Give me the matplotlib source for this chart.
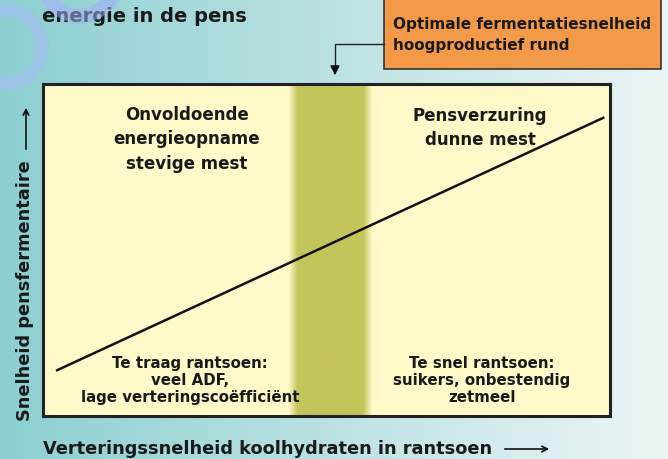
import numpy as np
import matplotlib
matplotlib.use("Agg")
import matplotlib.pyplot as plt
from matplotlib.patches import Rectangle, Wedge

# ---- data ----
title = "energie in de pens"
callout = "Optimale fermentatiesnelheid\nhoogproductief rund"
xlabel = "Verteringssnelheid koolhydraten in rantsoen"
ylabel = "Snelheid pensfermentaire"
line_x = [2.5, 98.8]
line_y = [13.8, 89.8]
band_x = [44.5, 56.8]
texts_top_left = "Onvoldoende\nenergieopname\nstevige mest"
texts_top_right = "Pensverzuring\ndunne mest"
texts_bot_left = "Te traag rantsoen:\nveel ADF,\nlage verteringscoëfficiënt"
texts_bot_right = "Te snel rantsoen:\nsuikers, onbestendig\nzetmeel"

W, H = 668, 459
fig = plt.figure(figsize=(W / 100, H / 100), dpi=100)
plt.rcParams['font.family'] = ['DejaVu Sans']

# background axes in pixel coords
bg = fig.add_axes([0, 0, 1, 1])
bg.set_xlim(0, W)
bg.set_ylim(H, 0)
bg.axis('off')
c1 = np.array([0x8c, 0xcf, 0xd0]) / 255
c2 = np.array([0xec, 0xf5, 0xf6]) / 255
t = np.linspace(0, 1, 256)
grad = (c1[None, :] * (1 - t[:, None]) + c2[None, :] * t[:, None])[None, :, :]
bg.imshow(grad, extent=[0, W, H, 0], aspect='auto', zorder=0)

ring_col = '#9cc4e6'
bg.add_patch(Wedge((5, 47), 43, 0, 360, width=12, color=ring_col, zorder=1))
bg.add_patch(Wedge((80, -20), 43, 0, 360, width=14, color=ring_col, zorder=1))

bg.text(42, 16, title, fontsize=14, fontweight='bold', color='#1a1a1a',
        va='center', ha='left', zorder=5)
# translucent ring over the title tints the overlapping letters
bg.add_patch(Wedge((80, -20), 43, 0, 360, width=14, color='#a0b8f0',
                   alpha=0.5, lw=0, zorder=6))

# callout box
bg.add_patch(Rectangle((384, -2), 277, 71, facecolor='#f39a48',
                       edgecolor='#333333', lw=1.2, zorder=4))
bg.text(393, 35, callout, fontsize=11, fontweight='bold', color='#1a1a1a',
        va='center', ha='left', linespacing=1.55, zorder=5)
bg.plot([384, 335, 335], [44, 44, 68], color='#222222', lw=1, zorder=4)
bg.annotate('', xy=(335, 78), xytext=(335, 66),
            arrowprops=dict(arrowstyle='-|>', color='#111111', lw=1,
                            mutation_scale=14), zorder=4)

# axis labels
bg.text(43, 449, xlabel, fontsize=12.8, fontweight='bold', color='#1a1a1a',
        va='center', ha='left', zorder=5)
bg.annotate('', xy=(552, 449), xytext=(502, 449),
            arrowprops=dict(arrowstyle='->', color='#111111', lw=1.2,
                            mutation_scale=10))
bg.text(25, 421, ylabel, fontsize=12.8, fontweight='bold', color='#1a1a1a',
        va='bottom', ha='center', rotation=90, zorder=5)
bg.annotate('', xy=(26, 105), xytext=(26, 152),
            arrowprops=dict(arrowstyle='->', color='#111111', lw=1.2,
                            mutation_scale=10))

# main box axes
L, R, T, B = 43, 610, 84, 416
ax = fig.add_axes([L / W, 1 - B / H, (R - L) / W, (B - T) / H])
ax.set_facecolor('#fff9c9')
ax.set_xticks([])
ax.set_yticks([])
for s in ax.spines.values():
    s.set_linewidth(2.2)
    s.set_color('#222222')

# band with soft edges
band_col = np.array([0xc3, 0xc4, 0x5a]) / 255
box_col = np.array([0xff, 0xf9, 0xc9]) / 255
n = 400
xs = np.linspace(band_x[0] - 2, band_x[1] + 2, n)
alpha = np.clip(np.minimum(xs - (band_x[0] - 1.2), (band_x[1] + 1.2) - xs) / 1.6, 0, 1)
img = box_col[None, :] * (1 - alpha[:, None]) + band_col[None, :] * alpha[:, None]
ax.imshow(img[None, :, :], extent=[xs[0], xs[-1], 0, 100], aspect='auto', zorder=1)
ax.set_xlim(0, 100)
ax.set_ylim(0, 100)

ax.plot(line_x, line_y, color='#111111', lw=1.8, zorder=3)

ax.text(25.4, 83.3, texts_top_left, fontsize=12, fontweight='bold', ha='center',
        va='center', linespacing=1.45, color='#1a1a1a', zorder=4)
ax.text(77.1, 86.7, texts_top_right, fontsize=12, fontweight='bold', ha='center',
        va='center', linespacing=1.45, color='#1a1a1a', zorder=4)
ax.text(25.9, 10.7, texts_bot_left, fontsize=10.8, fontweight='bold', ha='center',
        va='center', linespacing=1.2, color='#1a1a1a', zorder=4)
ax.text(77.4, 10.7, texts_bot_right, fontsize=10.8, fontweight='bold', ha='center',
        va='center', linespacing=1.2, color='#1a1a1a', zorder=4)

fig.savefig('out.png', dpi=100)
